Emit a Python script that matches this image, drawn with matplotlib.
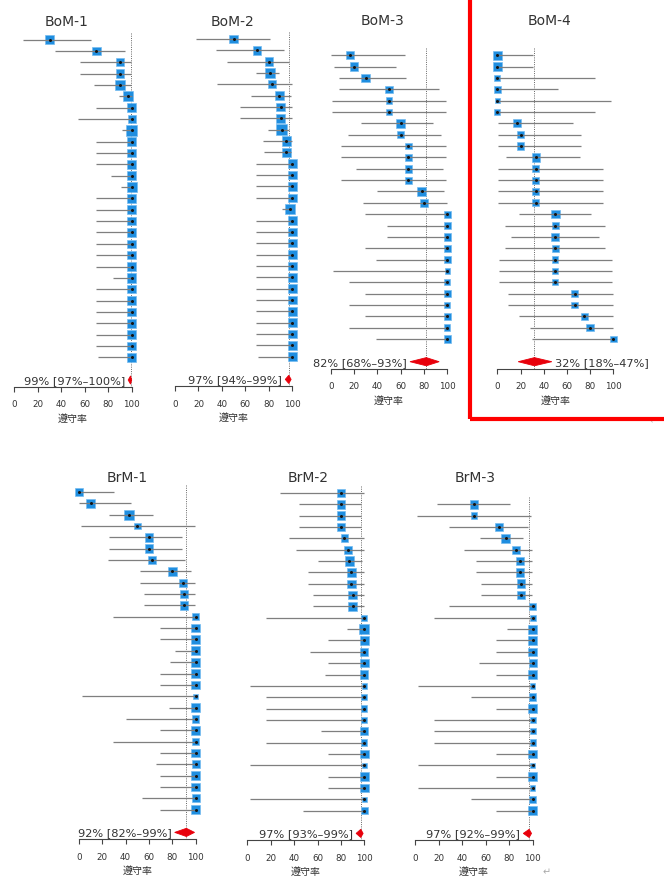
import numpy as np
import matplotlib
matplotlib.use('Agg')
import matplotlib.pyplot as plt
from matplotlib.patches import Polygon, Rectangle

plt.rcParams['font.family'] = ['DejaVu Sans', 'Noto Sans CJK JP']

# ---- study data: estimate, CI lower, CI upper (%), sample size ----
bom1_est = [30, 70, 90, 90, 90, 97, 100, 100, 100, 100, 100, 100, 100, 100, 100,
            100, 100, 100, 100, 100, 100, 100, 100, 100, 100, 100, 100, 100, 100]
bom1_lo = [7, 35, 56, 56, 68, 89, 70, 54, 92, 70, 70, 70, 82, 91, 70,
           70, 70, 70, 70, 70, 70, 84, 70, 70, 70, 70, 70, 70, 71]
bom1_hi = [65, 94, 99.7, 99.7, 99, 100, 100, 100, 100, 100, 100, 100, 100, 100, 100,
           100, 100, 100, 100, 100, 100, 100, 100, 100, 100, 100, 100, 100, 100]
bom1_n = [10, 10, 10, 10, 20, 40, 10, 6, 45, 10, 10, 10, 19, 40, 10,
          10, 10, 10, 10, 10, 10, 21, 10, 10, 10, 10, 10, 10, 11]

bom2_est = [50, 70, 80, 81, 83, 89, 90, 90, 91, 95, 95, 100, 100, 100, 100,
            98, 100, 100, 100, 100, 100, 100, 100, 100, 100, 100, 100, 100, 100]
bom2_lo = [18, 35, 44, 69, 36, 65, 55, 55, 79, 75, 76, 69, 69, 69, 69,
           91, 69, 69, 69, 69, 69, 69, 69, 69, 69, 69, 69, 69, 71]
bom2_hi = [81, 93, 97.5, 89, 99.6, 98.6, 99.7, 99.7, 97, 99.9, 99, 100, 100, 100, 100,
           100, 100, 100, 100, 100, 100, 100, 100, 100, 100, 100, 100, 100, 100]
bom2_n = [10, 10, 10, 50, 6, 18, 10, 10, 44, 20, 20, 10, 10, 10, 10,
          50, 10, 10, 10, 10, 10, 10, 10, 10, 10, 10, 10, 10, 11]

bom3_est = [16.7, 20, 30, 50, 50, 50, 60, 60, 66.7, 66.7, 66.7, 66.7, 78, 80,
            100, 100, 100, 100, 100, 100, 100, 100, 100, 100, 100, 100]
bom3_lo = [0.4, 2.5, 6.7, 7, 1, 1, 26, 15, 9, 9, 22, 9, 40, 28,
           29, 48, 48, 29, 39, 2, 16, 29, 16, 29, 16, 39]
bom3_hi = [64, 55.6, 65, 93, 99, 99, 88, 95, 99, 99, 96, 99, 97, 99.5,
           100, 100, 100, 100, 100, 100, 100, 100, 100, 100, 100, 100]
bom3_n = [6, 10, 10, 4, 2, 2, 10, 5, 3, 3, 6, 3, 9, 5,
          3, 5, 5, 3, 4, 1, 2, 3, 2, 3, 2, 4]

bom4_est = [0, 0, 0, 0, 0, 0, 16.7, 20, 20, 33.3, 33.3, 33.3, 33.3, 33.3,
            50, 50, 50, 50, 50, 50, 50, 66.7, 66.7, 75, 80, 100]
bom4_lo = [0, 0, 0, 0, 0, 0, 0.4, 0.5, 0.5, 7.5, 0.8, 0.8, 0.8, 0.8,
           19, 7, 12, 7, 1.3, 1.3, 1.3, 9, 9, 19, 28, 30]
bom4_hi = [31, 31, 84, 52, 98, 84, 65, 72, 72, 71, 91, 91, 91, 91,
           81, 93, 88, 93, 99, 99, 99, 99.5, 99.5, 99.5, 99.5, 100]
bom4_n = [10, 10, 2, 5, 1, 2, 6, 5, 5, 9, 3, 3, 3, 3,
          10, 4, 6, 4, 2, 2, 2, 3, 3, 4, 5, 3]

brm1_est = [0, 10, 43, 50, 60, 60, 62.5, 80, 89, 90, 90, 100, 100, 100, 100,
            100, 100, 100, 100, 100, 100, 100, 100, 100, 100, 100, 100, 100, 100]
brm1_lo = [0, 0.3, 25.5, 1.3, 26, 26, 24.5, 52, 52, 56, 56, 29, 69, 69, 82,
           78, 69, 69, 2.5, 77, 40, 69, 29, 69, 66, 69, 69, 54, 69]
brm1_hi = [30, 44.5, 63, 99, 88, 88, 91, 96, 99.7, 99.7, 99.7, 100, 100, 100, 100,
           100, 100, 100, 100, 100, 100, 100, 100, 100, 100, 100, 100, 100, 100]
brm1_n = [10, 10, 30, 2, 10, 10, 8, 15, 9, 10, 10, 3, 10, 10, 19,
          15, 10, 10, 1, 14, 4, 10, 3, 10, 9, 10, 10, 6, 10]

brm2_est = [80, 80, 80, 80, 83, 86, 87, 89, 89, 90, 90, 100, 100, 100, 100,
            100, 100, 100, 100, 100, 100, 100, 100, 100, 100, 100, 100, 100, 100]
brm2_lo = [28, 44, 44, 44, 36, 42, 60, 52, 52, 56, 56, 16, 85, 69, 54,
           69, 66, 2.5, 16, 16, 16, 63, 16, 69, 2.5, 69, 69, 2.5, 48]
brm2_hi = [99.5, 97.5, 97.5, 97.5, 99.6, 99.6, 98.3, 99.7, 99.7, 99.7, 99.7, 100, 100, 100, 100,
           100, 100, 100, 100, 100, 100, 100, 100, 100, 100, 100, 100, 100, 100]
brm2_n = [5, 10, 10, 10, 6, 7, 15, 9, 9, 10, 10, 2, 23, 10, 6,
          10, 9, 1, 2, 2, 2, 8, 2, 10, 1, 10, 10, 1, 5]

brm3_est = [50, 50, 71, 77, 86, 89, 89, 90, 90, 100, 100, 100, 100, 100,
            100, 100, 100, 100, 100, 100, 100, 100, 100, 100, 100, 100, 100, 100]
brm3_lo = [19, 1.3, 29, 55, 42, 52, 52, 56, 56, 29, 16, 78, 69, 69,
           54, 69, 2.5, 48, 69, 16, 16, 16, 69, 2.5, 69, 2.5, 48, 69]
brm3_hi = [81, 98.7, 96.3, 92, 99.6, 99.7, 99.7, 99.7, 99.7, 100, 100, 100, 100, 100,
           100, 100, 100, 100, 100, 100, 100, 100, 100, 100, 100, 100, 100, 100]
brm3_n = [10, 2, 7, 22, 7, 9, 9, 10, 10, 3, 2, 15, 10, 10,
          6, 10, 1, 5, 10, 2, 2, 2, 10, 1, 10, 1, 5, 10]

# pooled estimate [lower, upper]
summ = {
    'BoM-1': (99, 97, 100),
    'BoM-2': (97, 94, 99),
    'BoM-3': (82, 68, 93),
    'BoM-4': (32, 18, 47),
    'BrM-1': (92, 82, 99),
    'BrM-2': (97, 93, 99),
    'BrM-3': (97, 92, 99),
}
ticks = [0, 20, 40, 60, 80, 100]
xlab = '遵守率'

W, H = 664, 878
SP = 11.35   # row spacing in px
BLUE = '#1f8ee0'
TXT = '#333333'

fig = plt.figure(figsize=(W / 100, H / 100), dpi=100)


def panel(name, est, lo, hi, n, x0, x100, last_y, title_xy, text_right=False):
    k = len(est)
    top = last_y - k * SP
    bot = last_y + 2.6 * SP
    ax = fig.add_axes([x0 / W, 1 - bot / H, (x100 - x0) / W, (bot - top) / H])
    ax.set_xlim(0, 100)
    ax.set_ylim(k + 2.6, 0)
    rows = np.arange(1, k + 1)

    m, slo, shi = summ[name]
    ax.vlines(m, 0.4, k + 2.6, colors='#666666', linestyles=(0, (1, 1.3)),
              lw=0.7, zorder=1, clip_on=False)

    # square size grows with study size
    side = 5.4 + 1.35 * np.log(np.array(n, dtype=float))
    ax.scatter(est, rows, marker='s', s=(side * 0.72) ** 2, c=BLUE,
               edgecolors='#78bdf0', linewidths=0.5, zorder=2, clip_on=False)
    ax.hlines(rows, lo, hi, colors='#7f7f7f', lw=0.9, zorder=3, clip_on=False)
    ax.scatter(est, rows, marker='o', s=1.4, c='#151515', zorder=4, clip_on=False)

    ys = k + 2
    dia = Polygon([(slo, ys), (m, ys - 0.36), (shi, ys), (m, ys + 0.36)],
                  closed=True, fc='#e8000b', ec='#e8000b', lw=0.6, zorder=5,
                  clip_on=False)
    ax.add_patch(dia)
    label = '%d%% [%d%%–%d%%]' % (m, slo, shi)
    if text_right:
        ax.annotate(label, (shi, ys), xytext=(2.6, 0), textcoords='offset points',
                    ha='left', va='center', fontsize=8.2, color=TXT)
    else:
        ax.annotate(label, (slo, ys), xytext=(-2.2, 0), textcoords='offset points',
                    ha='right', va='center', fontsize=8.2, color=TXT)

    for s in ['top', 'right', 'left']:
        ax.spines[s].set_visible(False)
    ax.spines['bottom'].set_bounds(0, 100)
    ax.spines['bottom'].set_color('#444444')
    ax.spines['bottom'].set_linewidth(0.8)
    ax.set_yticks([])
    ax.set_xticks(ticks)
    ax.set_xticklabels([str(t) for t in ticks])
    ax.tick_params(axis='x', length=3.6, width=0.8, color='#444444',
                   labelsize=6.3, labelcolor=TXT, pad=5.5)
    ax.patch.set_visible(False)

    fig.text(title_xy[0] / W, 1 - title_xy[1] / H, name, ha='center', va='center',
             fontsize=10, color=TXT)
    fig.text((x0 + x100) / 2 / W, 1 - (bot + 31) / H, xlab, ha='center',
             va='center', fontsize=7.2, color=TXT)


panel('BoM-1', bom1_est, bom1_lo, bom1_hi, bom1_n, 14.3, 131.7, 358.3, (66.7, 21.7))
panel('BoM-2', bom2_est, bom2_lo, bom2_hi, bom2_n, 175, 292.3, 357.7, (232.5, 21.7))
panel('BoM-3', bom3_est, bom3_lo, bom3_hi, bom3_n, 330.7, 447.3, 340, (382, 20.7))
panel('BoM-4', bom4_est, bom4_lo, bom4_hi, bom4_n, 497.3, 613.3, 340, (549.5, 20.7),
      text_right=True)
panel('BrM-1', brm1_est, brm1_lo, brm1_hi, brm1_n, 79, 195.7, 810.7, (127.5, 478.3))
panel('BrM-2', brm2_est, brm2_lo, brm2_hi, brm2_n, 247.3, 364.3, 811.7, (307.7, 478))
panel('BrM-3', brm3_est, brm3_lo, brm3_hi, brm3_n, 415, 532.7, 811.7, (475.5, 478))

# return marks and red frame around BoM-4
fig.text(654 / W, 1 - 421 / H, '↵', ha='center', va='center', fontsize=7,
         color='#bbbbbb', zorder=0)
fig.text(547 / W, 1 - 872 / H, '↵', ha='center', va='center', fontsize=7,
         color='#aaaaaa')
frame = Rectangle((469.8 / W, 1 - 419.5 / H), 0.5, 0.6, transform=fig.transFigure,
                  fill=False, ec='#ff0000', lw=3.0, joinstyle='round', zorder=10)
fig.add_artist(frame)

fig.savefig('out.png', dpi=100)
